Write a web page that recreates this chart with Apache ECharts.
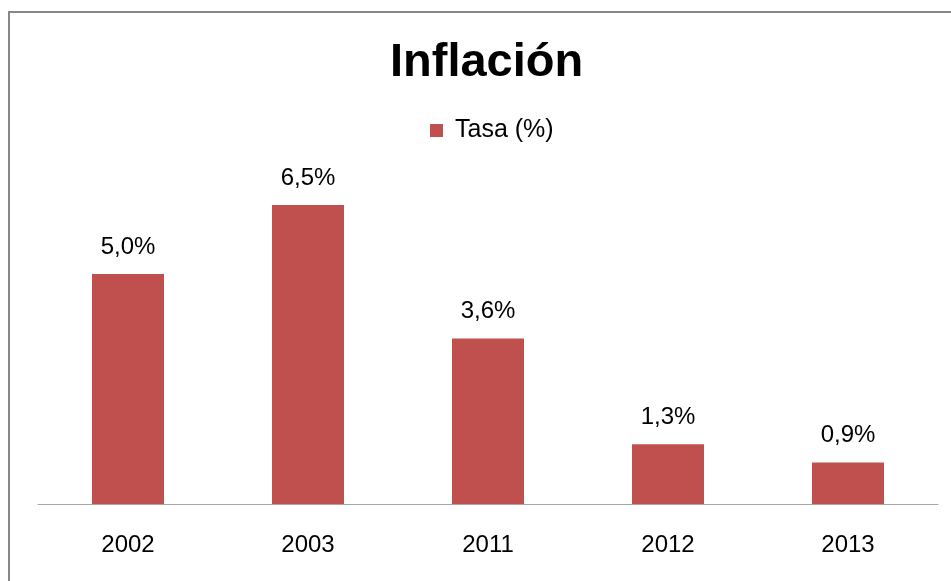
<!DOCTYPE html>
<html><head><meta charset="utf-8">
<script src="https://cdn.jsdelivr.net/npm/echarts@6/dist/echarts.min.js"></script>
<style>html,body{margin:0;padding:0;background:#fff}#c{width:951px;height:581px}</style>
</head><body><div id="c"></div>
<script>
var categories = ['2002', '2003', '2011', '2012', '2013'];
var values = [5.0, 6.5, 3.6, 1.3, 0.9];
var seriesName = 'Tasa (%)';
var titleText = 'Inflación';

var chart = echarts.init(document.getElementById('c'));
chart.setOption({
  animation: false,
  backgroundColor: '#fff',
  graphic: [{
    type: 'rect', silent: true,
    shape: { x: 9, y: 12, width: 1000, height: 700 },
    style: { fill: 'none', stroke: '#878787', lineWidth: 2 }
  }],
  title: {
    text: titleText, left: 385, top: 35,
    textStyle: { fontFamily: 'Liberation Sans, Arial', fontWeight: 'bold', fontSize: 47, color: '#000' }
  },
  legend: {
    data: [seriesName], top: 113, left: 425, itemWidth: 13, itemHeight: 13, itemGap: 6,
    icon: 'rect',
    textStyle: { fontFamily: 'Liberation Sans, Arial', fontSize: 25, color: '#000', padding: [0, 0, 0, 7] }
  },
  grid: { left: 38, right: 13, top: 182, bottom: 77, containLabel: false },
  xAxis: {
    type: 'category', data: categories,
    axisLine: { lineStyle: { color: '#a6a6a6', width: 1 } },
    axisTick: { show: false },
    axisLabel: { fontFamily: 'Liberation Sans, Arial', fontSize: 24, color: '#000', margin: 29 }
  },
  yAxis: { type: 'value', min: 0, max: 7, show: false, splitLine: { show: false } },
  series: [{
    name: seriesName, type: 'bar', data: values, barWidth: '40%',
    itemStyle: { color: '#c0504d' },
    label: {
      show: true, position: 'top', distance: 15,
      fontFamily: 'Liberation Sans, Arial', fontSize: 24, color: '#000',
      formatter: function (p) { return p.value.toFixed(1).replace('.', ',') + '%'; }
    }
  }]
});
</script></body></html>
